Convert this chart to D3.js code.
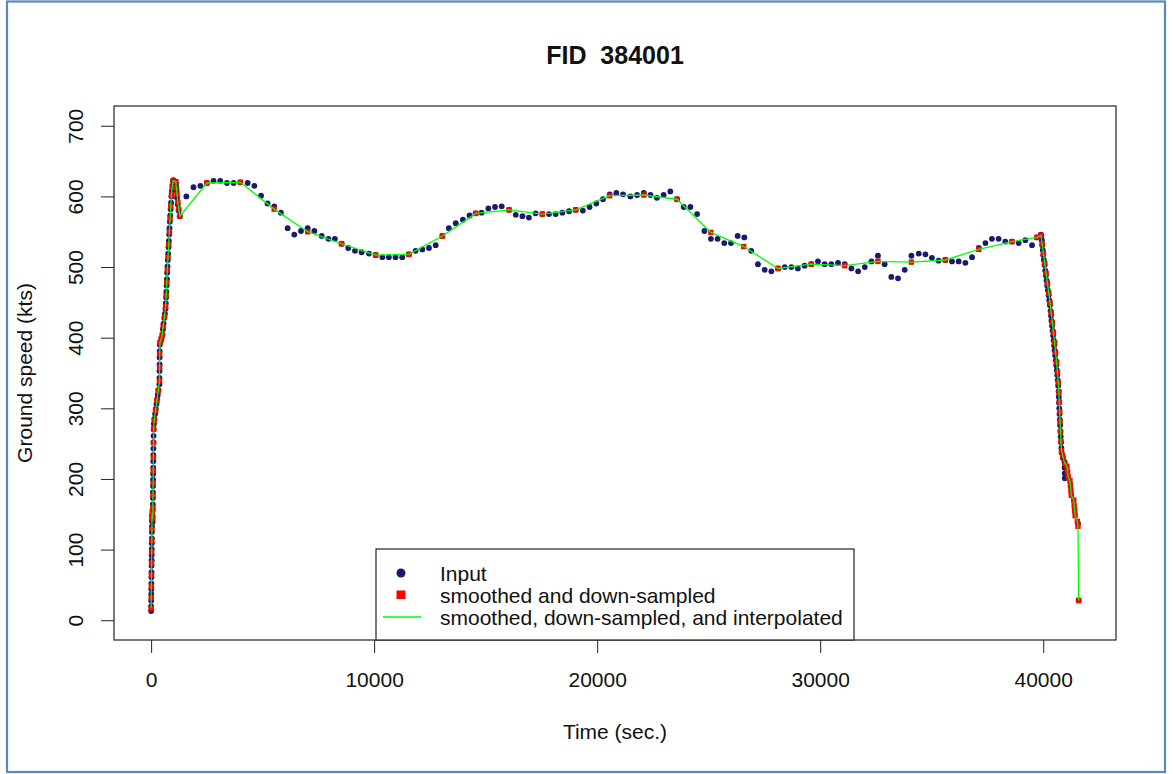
<!DOCTYPE html>
<html>
<head>
<meta charset="utf-8">
<script src="https://cdn.jsdelivr.net/npm/d3@7"></script>
<style>
  html, body { margin: 0; padding: 0; background: #ffffff; }
  svg { display: block; font-family: "Liberation Sans", Arial, sans-serif; }
</style>
</head>
<body>
<svg id="chart" width="1173" height="774"></svg>
<script>
// ---- Flight FID 384001: ground speed (kts) against time (sec.) ----
const chartTitle = "FID  384001";
const xLabel = "Time (sec.)";
const yLabel = "Ground speed (kts)";
const xTicks = [0, 10000, 20000, 30000, 40000];
const yTicks = [0, 100, 200, 300, 400, 500, 600, 700];
const xLimits = [0, 41600];
const yLimits = [0, 700];
const legendLabels = ["Input", "smoothed and down-sampled", "smoothed, down-sampled, and interpolated"];

// Raw input samples [time, speed]
const inputClimb = [
  [0,13],[3,20],[5,28],[8,37],[10,44],[13,52],[15,61],[18,68],[20,77],[23,85],[25,92],[28,101],
  [30,109],[33,116],[35,125],[38,133],[40,141],[43,148],
  [68,139],[71,147],[74,156],[77,164],[80,173],[83,181],[86,190],[89,199],[92,207],[95,216],
  [98,225],[101,234],[104,243],[107,252],[110,261],[113,270],
  [125,278],[150,285],[180,292],[210,299],[240,306],[270,313],[300,319],[330,326],
  [372,334],[375,343],[378,353],[380,362],[382,372],[384,381],[390,390],
  [430,395],[470,399],[510,404],
  [530,412],[560,420],[590,428],[620,434],[645,441],[660,449],[672,457],[684,465],[696,474],
  [708,483],[720,492],[735,501],[750,510],[765,519],[780,528],[795,537],[810,546],[825,555],
  [840,564],[858,573],[876,582],[894,591],[912,600],[935,608],[958,615],[980,621],[1000,623],
  [1120,618],[1140,608],[1160,598],[1190,589],[1230,580],[1280,572]
];
const inputCruise = [
  [1580,600],[1900,613],[2210,615],[2500,619],[2800,622],[3100,622],[3400,619],[3700,619],
  [4000,620],[4330,619],[4630,615],[4930,601],[5220,590],[5520,586],[5820,577],[6120,555],
  [6420,546],[6720,551],[7020,555],[7320,551],[7650,544],[7950,540],[8240,540],[8540,533],
  [8840,527],[9140,523],[9440,521],[9770,519],[10070,517],[10370,514],[10660,514],[10960,514],
  [11260,514],[11560,518],[11860,523],[12160,525],[12460,527],[12760,531],[13060,544],[13350,555],
  [13660,562],[13980,567],[14280,573],[14550,576],[14820,577],[15120,583],[15420,585],[15720,586],
  [16050,581],[16350,574],[16650,572],[16940,570],[17240,576],[17540,575],[17840,575],[18140,575],
  [18440,577],[18740,579],[19040,581],[19360,580],[19660,585],[19960,590],[20260,596],[20560,603],
  [20860,605],[21160,603],[21490,600],[21790,602],[22090,605],[22390,602],[22680,598],[22980,602],
  [23280,607],[23580,596],[23880,585],[24180,585],[24480,575],[24810,551],[25100,540],[25400,540],
  [25700,534],[26000,534],[26300,544],[26600,542],[26910,523],[27210,504],[27510,496],[27810,494],
  [28110,498],[28410,500],[28710,500],[29000,498],[29300,502],[29600,504],[29900,508],[30200,504],
  [30500,504],[30800,506],[31100,504],[31400,498],[31700,494],[32000,500],[32300,508],[32590,516],
  [32890,504],[33190,486],[33490,484],[33790,496],[34090,516],[34420,519],[34720,518],[35010,513],
  [35310,509],[35610,510],[35910,508],[36210,508],[36510,506],[36810,514],[37110,527],[37410,534],
  [37700,540],[38000,540],[38300,536],[38600,536],[38900,534],[39200,538],[39500,531],[39720,542]
];
const inputDescent = [
  [39890,546],[39920,544],[39940,538],[39960,531],[39980,524],[40000,517],[40030,510],[40060,503],
  [40090,495],[40120,488],[40150,481],[40180,474],[40210,467],[40240,460],[40270,453],[40300,446],
  [40330,438],[40350,431],[40370,424],[40395,417],[40420,410],[40445,403],[40470,396],[40490,389],
  [40510,382],[40535,375],[40560,368],[40585,361],[40610,354],[40630,347],[40650,340],[40670,332],
  [40690,324],[40700,316],[40710,308],[40720,300],[40730,292],[40745,284],[40760,276],[40770,268],
  [40785,260],[40800,252],[40815,244],[40830,237],[40880,230],[40950,224],[40960,216],[40965,208],
  [40970,201],[41560,137],[41590,28]
];

// Smoothed and down-sampled series [time, speed]
const smoothClimb = [
  [2,17],[6,32],[11,48],[16,64],[21,81],[26,97],[31,113],[36,129],[41,145],[50,153],
  [72,144],[78,160],[84,177],[90,194],[96,212],[102,231],[108,251],[114,271],
  [140,283],[200,297],[260,311],[320,325],
  [376,339],[380,358],[383,377],[395,393],[450,398],[500,404],
  [540,416],[600,430],[650,444],[675,460],[700,478],[728,496],[758,514],[788,532],[818,550],
  [848,568],[880,586],[912,602],[945,613],[985,622],
  [1110,621],[1135,612],[1160,603],[1200,592],[1240,582],[1290,572]
];
const smoothCruise = [
  [2500,619],[4000,620],[5520,582],[7020,550],[8540,533],[10070,517],[11560,518],[13060,544],
  [14560,576],[16050,581],[17540,575],[19040,581],[20560,601],[22090,602],[23580,596],[25100,549],
  [26570,529],[28110,498],[29600,504],[31100,502],[32590,508],[34090,507],[35610,510],[37110,525],
  [38600,536],[39720,542]
];
const smoothDescent = [
  [39900,545],[39950,533],[40010,519],[40070,505],[40130,491],[40190,477],[40250,463],[40310,449],
  [40360,435],[40410,421],[40460,407],[40510,393],[40555,379],[40600,365],[40640,351],[40675,337],
  [40705,323],[40725,309],[40740,295],[40755,281],[40775,267],[40795,253],[40820,240],[40880,232],
  [40970,222],[41060,218],[41090,210],[41120,203],[41200,198],[41220,191],[41240,184],[41260,177],
  [41370,170],[41390,162],[41410,155],[41430,148],[41530,140],[41560,133],[41590,28]
];

const inputData = inputClimb.concat(inputCruise, inputDescent);
const smoothData = smoothClimb.concat(smoothCruise, smoothDescent);

// Colours
const inputColor = "#191970";
const smoothColor = "#ff0000";
const lineColor = "#00ff00";

// Plot region and scales (axis ranges padded by 4% on each side)
const plot = { left: 114, right: 1116, top: 106, bottom: 640 };
const padRange = r => [r[0] - 0.04 * (r[1] - r[0]), r[1] + 0.04 * (r[1] - r[0])];
const x = d3.scaleLinear().domain(padRange(xLimits)).range([plot.left, plot.right]);
const y = d3.scaleLinear().domain(padRange(yLimits)).range([plot.bottom, plot.top]);

const svg = d3.select("#chart");

// Outer frame
svg.append("rect")
  .attr("x", 7).attr("y", 1.5).attr("width", 1158).attr("height", 770.5)
  .attr("fill", "none").attr("stroke", "#5b86c2").attr("stroke-width", 2.2);

// Title
svg.append("text")
  .attr("x", (plot.left + plot.right) / 2).attr("y", 64)
  .attr("text-anchor", "middle")
  .style("white-space", "pre")
  .attr("font-size", 25).attr("font-weight", "bold").attr("fill", "#111")
  .text(chartTitle);

// Marks
const marks = svg.append("g");
marks.selectAll("circle.input")
  .data(inputData).join("circle")
  .attr("class", "input")
  .attr("cx", d => x(d[0])).attr("cy", d => y(d[1]))
  .attr("r", 2.9).attr("fill", inputColor);

const sq = 5.4;
marks.selectAll("rect.smooth")
  .data(smoothData).join("rect")
  .attr("class", "smooth")
  .attr("x", d => x(d[0]) - sq / 2).attr("y", d => y(d[1]) - sq / 2)
  .attr("width", sq).attr("height", sq).attr("fill", smoothColor);

marks.append("path")
  .datum(smoothData)
  .attr("d", d3.line().x(d => x(d[0])).y(d => y(d[1])))
  .attr("fill", "none").attr("stroke", lineColor).attr("stroke-width", 1.3);

// Axes
const fontSize = 21;
const xAxis = svg.append("g")
  .attr("transform", `translate(0,${plot.bottom})`)
  .call(d3.axisBottom(x).tickValues(xTicks).tickSize(13).tickFormat(d3.format("d")));
xAxis.select(".domain").remove();
xAxis.selectAll(".tick line").attr("stroke", "#222");
xAxis.selectAll(".tick text")
  .attr("y", 47).attr("dy", 0)
  .attr("font-size", fontSize).attr("font-family", "Liberation Sans, Arial, sans-serif")
  .attr("fill", "#111");

const yAxis = svg.append("g")
  .attr("transform", `translate(${plot.left},0)`)
  .call(d3.axisLeft(y).tickValues(yTicks).tickSize(13).tickFormat(d3.format("d")));
yAxis.select(".domain").remove();
yAxis.selectAll(".tick line").attr("stroke", "#222");
yAxis.selectAll(".tick text")
  .attr("x", 0).attr("dy", 0)
  .attr("text-anchor", "middle")
  .attr("transform", "translate(-31,0) rotate(-90)")
  .attr("font-size", fontSize).attr("font-family", "Liberation Sans, Arial, sans-serif")
  .attr("fill", "#111");

// Plot box
svg.append("rect")
  .attr("x", plot.left).attr("y", plot.top)
  .attr("width", plot.right - plot.left).attr("height", plot.bottom - plot.top)
  .attr("fill", "none").attr("stroke", "#222").attr("stroke-width", 1.2);

// Axis titles
svg.append("text")
  .attr("x", (plot.left + plot.right) / 2).attr("y", 739)
  .attr("text-anchor", "middle").attr("font-size", fontSize).attr("fill", "#111")
  .text(xLabel);
svg.append("text")
  .attr("transform", `translate(32,${(plot.top + plot.bottom) / 2}) rotate(-90)`)
  .attr("text-anchor", "middle").attr("font-size", fontSize).attr("fill", "#111")
  .text(yLabel);

// Legend
const legend = svg.append("g");
legend.append("rect")
  .attr("x", 376).attr("y", 549).attr("width", 478).attr("height", plot.bottom - 549)
  .attr("fill", "#fff").attr("stroke", "#222").attr("stroke-width", 1.2);
const rowY = [573, 595, 617];
legend.append("circle").attr("cx", 401).attr("cy", rowY[0]).attr("r", 4.5).attr("fill", inputColor);
legend.append("rect").attr("x", 396.5).attr("y", rowY[1] - 4.5).attr("width", 9).attr("height", 8.5).attr("fill", smoothColor);
legend.append("line").attr("x1", 383).attr("x2", 421).attr("y1", rowY[2]).attr("y2", rowY[2])
  .attr("stroke", lineColor).attr("stroke-width", 1.3);
legend.selectAll("text.lab")
  .data(legendLabels).join("text")
  .attr("class", "lab")
  .attr("x", 440).attr("y", (d, i) => rowY[i] + 8)
  .attr("font-size", fontSize).attr("fill", "#111")
  .text(d => d);
</script>
</body>
</html>
